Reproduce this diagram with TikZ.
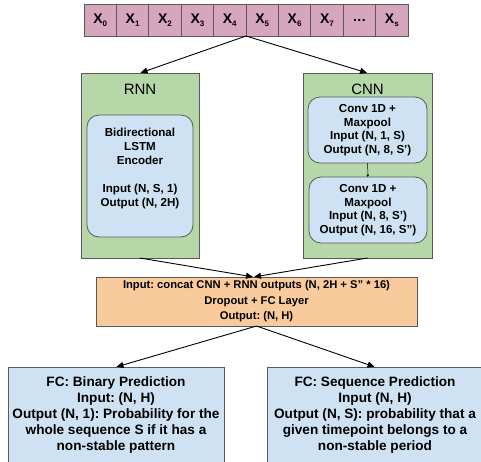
\documentclass[tikz,border=0pt]{standalone}
\usepackage{fontspec}
\setmainfont{Liberation Sans}
\usetikzlibrary{arrows.meta}
\definecolor{pinkc}{HTML}{D5A6BD}
\definecolor{greenc}{HTML}{B6D7A8}
\definecolor{bluec}{HTML}{CFE2F3}
\definecolor{orangec}{HTML}{F9CB9C}
\definecolor{edgec}{HTML}{595959}
\newcommand\xsub[1]{X\raisebox{-3.5pt}{\fontsize{8}{8}\selectfont #1}}
\newcommand\threedots{.\kern0.5pt.\kern0.5pt.}
\frenchspacing
\begin{document}
\frenchspacing
\begin{tikzpicture}[x=1pt,y=-1pt,
  box/.style={draw=edgec, line width=0.8pt, inner sep=0pt, outer sep=0pt, align=center},
  cell/.style={box, fill=pinkc, minimum width=32.4pt, minimum height=32pt, font=\bfseries\fontsize{14}{16}\selectfont},
  bluebox/.style={box, fill=bluec, rounded corners=12pt},
  btxt/.style={align=center, inner sep=0pt, font=\frenchspacing\bfseries\fontsize{11.6}{14}\selectfont},
  ctxt/.style={font=\frenchspacing\bfseries\fontsize{11.6}{13.5}\selectfont},
  ltxt/.style={align=center, inner sep=0pt, font=\frenchspacing\bfseries\fontsize{13.6}{16}\selectfont},
  hdr/.style={inner sep=0pt, font=\fontsize{15}{17}\selectfont},
  arr/.style={-{Triangle[length=7pt,width=6pt]}, line width=0.9pt, black, shorten >=0.5pt},
  sarr/.style={-{Triangle[length=2.5pt,width=2.5pt]}, line width=0.5pt, black}
]
\clip (0,0) rectangle (481,461);
\fill[white] (0,0) rectangle (481,461);
% top bar
\foreach \i/\t in {0/\xsub{0},1/\xsub{1},2/\xsub{2},3/\xsub{3},4/\xsub{4},5/\xsub{5},6/\xsub{6},7/\xsub{7},8/\threedots,9/\xsub{s}}{
  \node[cell] (c\i) at ({100.2+32.4*\i},20) {\t};
}
% RNN
\node[box, fill=greenc, minimum width=118pt, minimum height=185pt] (rnn) at (140,165.5) {};
\node[hdr] (rnnlab) at (140,89) {RNN};
\node[bluebox, minimum width=106pt, minimum height=122pt] (rnnin) at (140,176) {};
\node[btxt] (rnntxt) at (140,168) {Bidirectional\\LSTM\\Encoder\\[14pt]Input (N, S, 1)\\Output (N, 2H)};
% CNN
\node[box, fill=greenc, minimum width=129pt, minimum height=185pt] (cnn) at (367.5,165.5) {};
\node[hdr] (cnnlab) at (367.5,89) {CNN};
\node[bluebox, ctxt, minimum width=119pt, minimum height=66pt] (conv1) at (367.5,130) {Conv 1D +\\Maxpool\\Input (N, 1, S)\\Output (N, 8, S')};
\node[bluebox, ctxt, minimum width=118pt, minimum height=66pt] (conv2) at (368,210) {Conv 1D +\\Maxpool\\Input (N, 8, S')\\Output (N, 16, S'')};
\draw[sarr] (conv1) -- (conv2);
% orange
\node[box, fill=orangec, minimum width=321pt, minimum height=49pt, font=\frenchspacing\bfseries\fontsize{11.2}{15.5}\selectfont] (fc) at (256.5,301.5) {Input: concat CNN + RNN outputs (N, 2H + S'' * 16)\\Dropout + FC Layer\\Output: (N, H)};
% bottom boxes (extend past the lower edge)
\node[box, fill=bluec, minimum width=216pt, minimum height=103pt] (bin) at (116,418.5) {};
\node[ltxt] (bintxt) at (116,415) {FC: Binary Prediction\\Input: (N, H)\\Output (N, 1): Probability for the\\whole sequence S if it has a\\non-stable pattern};
\node[box, fill=bluec, minimum width=216pt, minimum height=103pt] (seq) at (375,418.5) {};
\node[ltxt] (seqtxt) at (375,415) {FC: Sequence Prediction\\Input (N, H)\\Output (N, S): probability that a\\given timepoint belongs to a\\non-stable period};
% arrows
\draw[arr] (c4.south east) -- (rnn.north);
\draw[arr] (c4.south east) -- (cnn.north);
\draw[arr] (rnn.south) -- ([xshift=-3pt]fc.north);
\draw[arr] (cnn.south) -- ([xshift=-3pt]fc.north);
\draw[arr] (fc.south) -- (bin.north);
\draw[arr] (fc.south) -- (seq.north);
\end{tikzpicture}
\end{document}
